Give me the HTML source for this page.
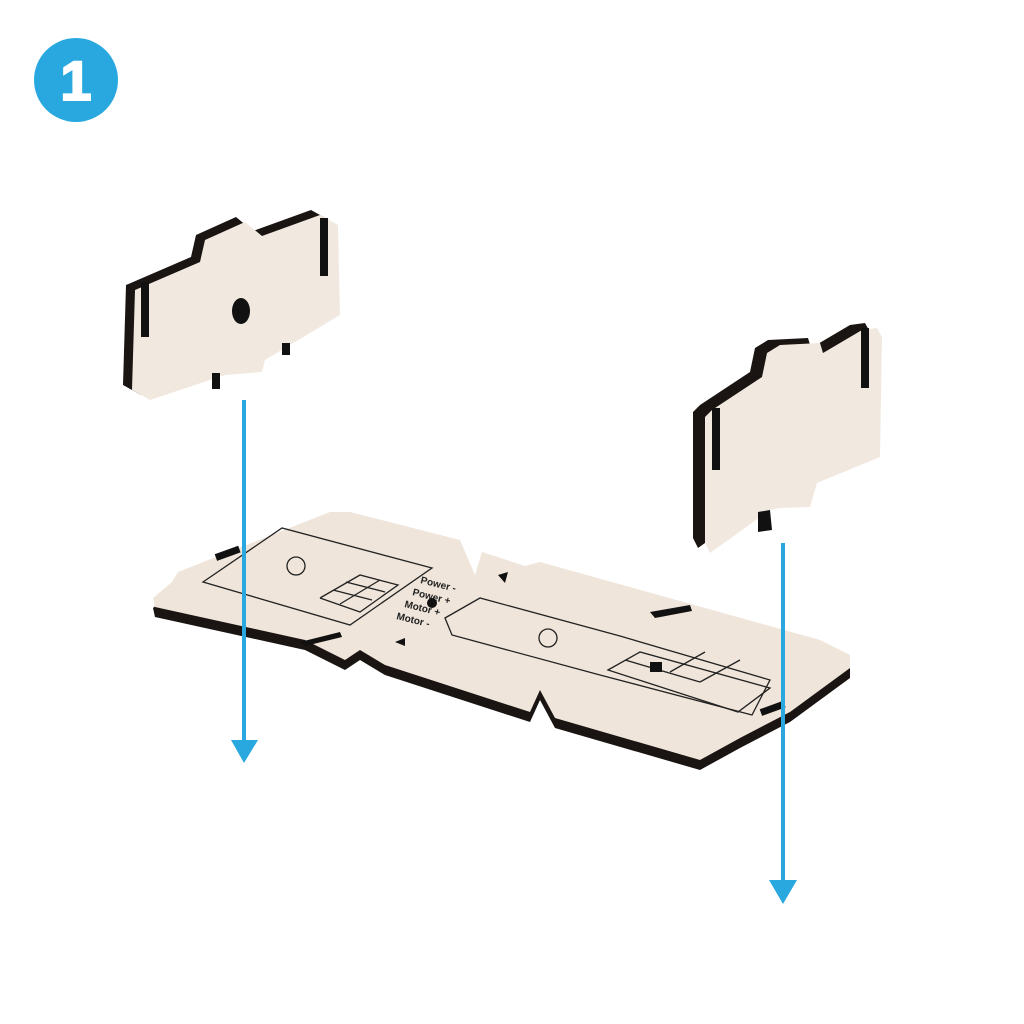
<!DOCTYPE html>
<html><head><meta charset="utf-8"><style>html,body{margin:0;padding:0;background:#fff}svg{display:block}</style></head>
<body>
<svg width="1024" height="1024" viewBox="0 0 1024 1024" xmlns="http://www.w3.org/2000/svg">
<rect width="1024" height="1024" fill="#fff"/>
<circle cx="76" cy="80" r="42" fill="#29a8e0"/>
<text x="76" y="100" text-anchor="middle" font-family="Liberation Sans, sans-serif" font-weight="bold" font-size="56" fill="#fff" stroke="#fff" stroke-width="2">1</text>

<!-- base plate -->
<g stroke-linejoin="round">
<polygon transform="translate(0,10)" fill="#1a1412" points="153,598 172,582 178,572 330,512 350,512 460,540 475,575 482,552 525,566 540,562 820,640 850,655 850,668 820,690 790,712 740,738 700,760 555,718 540,690 530,712 385,665 360,650 345,660 305,640 155,607"/>
<polygon fill="#efe5da" points="153,598 172,582 178,572 330,512 350,512 460,540 475,575 482,552 525,566 540,562 820,640 850,655 850,668 820,690 790,712 740,738 700,760 555,718 540,690 530,712 385,665 360,650 345,660 305,640 155,607"/>
</g>
<g fill="none" stroke="#222" stroke-width="1.3">
<polygon points="203,582 282,528 432,568 350,625"/>
<circle cx="296" cy="566" r="9"/>
<polyline points="320,598 360,575 398,585 360,612 320,598"/>
<line x1="333" y1="590" x2="372" y2="600"/><line x1="346" y1="582" x2="385" y2="592"/><line x1="340" y1="604" x2="380" y2="580"/>
<path d="M445,618 L480,598 L620,636 L770,680 L752,715 L600,675 L452,635 Z"/>
<circle cx="548" cy="638" r="9"/>
<path d="M608,670 L640,652 L770,688 L738,712 Z"/>
<line x1="625" y1="660" x2="700" y2="682"/><line x1="670" y1="672" x2="705" y2="652"/><line x1="700" y1="682" x2="740" y2="660"/>
</g>
<rect x="650" y="662" width="12" height="10" fill="#111"/>
<g font-family="Liberation Sans, sans-serif" font-size="10" font-weight="bold" fill="#222">
<text x="420" y="583" transform="rotate(14 420 583)">Power -</text>
<text x="412" y="595" transform="rotate(14 412 595)">Power +</text>
<text x="404" y="607" transform="rotate(14 404 607)">Motor +</text>
<text x="396" y="619" transform="rotate(14 396 619)">Motor -</text>
</g>
<circle cx="432" cy="603" r="5" fill="#111"/>
<polygon points="498,575 508,572 505,583" fill="#111"/>
<polygon points="395,642 405,638 405,646" fill="#111"/>
<polygon points="650,612 690,605 692,611 655,618" fill="#111"/>
<polygon points="300,642 340,632 342,637 305,646" fill="#111"/>
<rect x="215" y="550" width="25" height="7" fill="#111" transform="rotate(-20 227 553)"/>
<rect x="760" y="705" width="25" height="7" fill="#111" transform="rotate(-20 772 708)"/>

<!-- left panel -->
<polygon transform="translate(-9,-5)" fill="#1a1412" points="135,290 200,262 205,240 245,222 262,236 320,215 338,225 340,315 290,345 265,360 262,372 225,375 150,400 132,390"/>
<polygon fill="#f1e9e0" points="135,290 200,262 205,240 245,222 262,236 320,215 338,225 340,315 290,345 265,360 262,372 225,375 150,400 132,390"/>
<rect x="141" y="282" width="8" height="55" fill="#111"/>
<rect x="320" y="218" width="8" height="58" fill="#111"/>
<ellipse cx="241" cy="311" rx="9" ry="13" fill="#111"/>
<rect x="282" y="343" width="8" height="12" fill="#111"/>
<rect x="212" y="373" width="8" height="16" fill="#111"/>

<!-- right panel -->
<polygon transform="translate(-12,-5)" fill="#1a1412" points="712,410 762,377 767,353 780,345 820,343 823,353 862,330 877,328 882,337 880,457 817,483 810,507 780,508 770,510 710,553 705,543 705,417"/>
<polygon fill="#f1e9e0" points="712,410 762,377 767,353 780,345 820,343 823,353 862,330 877,328 882,337 880,457 817,483 810,507 780,508 770,510 710,553 705,543 705,417"/>
<rect x="712" y="408" width="8" height="62" fill="#111"/>
<rect x="861" y="328" width="8" height="60" fill="#111"/>
<polygon points="758,512 770,510 772,530 758,532" fill="#111"/>

<!-- arrows -->
<g fill="#29a8e0">
<rect x="242" y="400" width="4" height="345"/>
<polygon points="231,740 258,740 244,763"/>
<rect x="781" y="543" width="4" height="342"/>
<polygon points="769,880 797,880 783,904"/>
</g>
</svg>
</body></html>
